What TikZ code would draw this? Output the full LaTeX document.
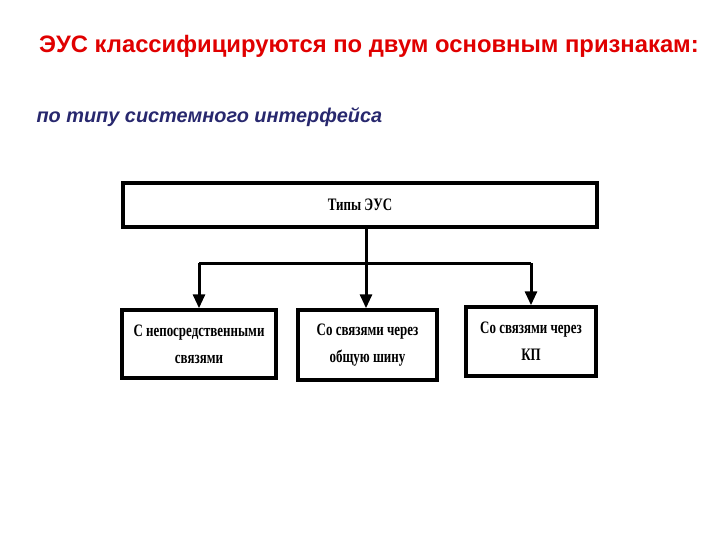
\documentclass[tikz,border=0pt]{standalone}
\usepackage{fontspec}
\setmainfont{Liberation Sans}
\newfontfamily\boxfont[FakeStretch=0.74]{Liberation Serif}
\usepackage{tikz}
\usetikzlibrary{arrows.meta}
\definecolor{titlered}{RGB}{224,0,0}
\definecolor{subblue}{RGB}{40,40,110}

\begin{document}
\begin{tikzpicture}[x=1pt,y=-1pt,->,>={Triangle[length=14pt,width=12pt]},
                    line width=3pt]
\tikzstyle{every node}=[inner sep=0pt]
\tikzstyle{kind}=[draw=black,line width=3.5pt,fill=white,align=center,
                  font=\boxfont\bfseries\fontsize{17.5}{27}\selectfont]
\useasboundingbox (0,0) rectangle (720,540);
\node[text=titlered,font=\bfseries\fontsize{23.8}{26}\selectfont] (title) at (369,46)
  {ЭУС классифицируются по двум основным признакам:};
\node[text=subblue,font=\bfseries\itshape\fontsize{19.9}{22}\selectfont,anchor=west] (sub) at (35,117)
  {по типу системного интерфейса};
\node[kind,minimum width=474pt,minimum height=44pt] (top) at (360,205) {Типы ЭУС};
\node[kind,minimum width=154pt,minimum height=68pt] (b1) at (199,344)
  {С непосредственными\\связями};
\node[kind,minimum width=139pt,minimum height=70pt] (b2) at (367.5,345)
  {Со связями через\\общую шину};
\node[kind,minimum width=130pt,minimum height=69pt] (b3) at (531,341.5)
  {Со связями через\\КП};
\coordinate (bus) at (366,263);
\draw[-] (top.south -| bus) -- (bus);
\path (bus) edge[-] (bus -| b1.north)
      (bus) edge[-] (bus -| b3.north)
      (bus -| b1.north) edge (b1.north)
      (bus) edge (bus |- b2.north)
      (bus -| b3.north) edge (b3.north);
\end{tikzpicture}
\end{document}
